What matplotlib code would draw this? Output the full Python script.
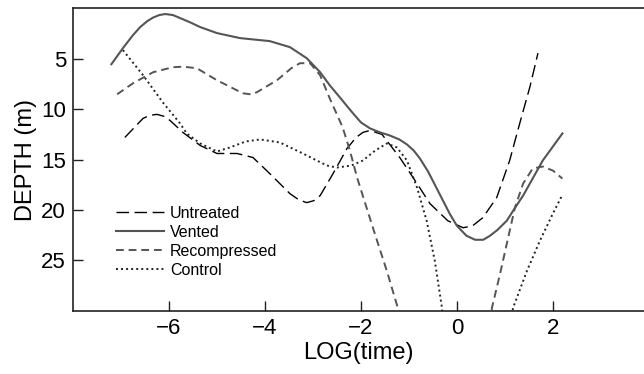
import numpy as np
import matplotlib
matplotlib.use("Agg")
import matplotlib.pyplot as plt

plt.rcParams['font.family'] = ['Liberation Sans', 'DejaVu Sans']

# depth curves (LOG(time), depth in m)
vented_x = [-7.2, -6.96, -6.75, -6.6, -6.45, -6.33, -6.2, -6.08, -5.92, -5.77, -5.55, -5.35,
            -5.0, -4.52, -3.9, -3.48, -3.13, -2.85, -2.65, -2.44, -2.2, -2.0, -1.81, -1.6,
            -1.4, -1.2, -1.04, -0.9, -0.77, -0.6, -0.45, -0.3, -0.15, 0.0, 0.2, 0.38, 0.55,
            0.69, 0.85, 1.04, 1.2, 1.38, 1.79, 2.2]
vented_y = [5.5, 3.9, 2.6, 1.8, 1.2, 0.85, 0.6, 0.5, 0.6, 0.9, 1.35, 1.8,
            2.4, 2.9, 3.2, 3.8, 4.9, 6.3, 7.6, 8.8, 10.2, 11.3, 11.9, 12.3,
            12.6, 13.0, 13.5, 14.1, 14.9, 16.2, 17.6, 19.0, 20.4, 21.6, 22.6, 23.0, 23.0,
            22.6, 22.0, 21.1, 19.9, 18.6, 15.1, 12.4]

untreated_x = [-6.92, -6.54, -6.4, -6.25, -6.1, -5.98, -5.71, -5.35, -5.0, -4.58, -4.25, -3.9,
               -3.48, -3.3, -3.13, -2.98, -2.85, -2.58, -2.29, -2.1, -1.96, -1.81, -1.56, -1.19,
               -0.83, -0.56, -0.19, 0.13, 0.33, 0.54, 0.83, 1.1, 1.31, 1.52, 1.69]
untreated_y = [12.8, 10.9, 10.6, 10.5, 10.7, 11.1, 12.3, 13.6, 14.4, 14.4, 14.8, 16.4,
               18.4, 19.0, 19.3, 19.1, 18.6, 16.4, 13.9, 12.8, 12.3, 12.1, 12.5, 14.8,
               17.4, 19.4, 21.1, 21.8, 21.6, 20.8, 18.8, 15.1, 11.4, 7.8, 4.4]

# these two leave the plot at the bottom and come back, nan splits the pieces
recomp_x = [-7.08, -6.75, -6.33, -5.92, -5.7, -5.42, -5.0, -4.46, -4.3, -4.17, -3.75, -3.45,
            -3.27, -3.06, -2.85, -2.65, -2.38, -2.23, -2.08, -1.75, -1.46, -1.23, -1.05, np.nan,
            0.68, 0.73, 0.9, 1.04, 1.21, 1.38, 1.58, 1.79, 2.0, 2.2]
recomp_y = [8.5, 7.4, 6.3, 5.8, 5.75, 5.9, 7.1, 8.4, 8.5, 8.3, 7.1, 5.9,
            5.4, 5.4, 6.6, 8.9, 11.8, 14.1, 16.8, 21.8, 26.1, 29.8, 32.7, np.nan,
            32.5, 29.8, 26.4, 23.4, 19.8, 17.4, 15.9, 15.7, 16.1, 16.9]

control_x = [-6.96, -6.54, -6.13, -5.77, -5.63, -5.35, -5.0, -4.73, -4.4, -4.1, -3.69, -3.21,
             -2.71, -2.5, -2.2, -1.96, -1.7, -1.46, -1.25, -1.04, -0.83, -0.63, -0.46, -0.31,
             -0.27, np.nan, 1.08, 1.17, 1.46, 1.73, 2.0, 2.19]
control_y = [4.1, 6.6, 9.3, 11.4, 12.4, 13.4, 14.2, 13.8, 13.2, 13.0, 13.3, 14.4,
             15.6, 15.8, 15.6, 15.1, 14.1, 13.4, 13.8, 15.1, 17.8, 21.1, 25.1, 29.8,
             32.5, np.nan, 32.5, 29.8, 26.1, 23.1, 20.4, 18.6]

fig = plt.figure(figsize=(6.44, 3.74), dpi=100)
ax = fig.add_axes([0.1134, 0.1684, 0.8866, 0.8102])

ax.plot(untreated_x, untreated_y, color='black', lw=1.0, dashes=(9, 4), label='Untreated')
ax.plot(vented_x, vented_y, color='#555555', lw=1.5, label='Vented')
ax.plot(recomp_x, recomp_y, color='#555555', lw=1.4, dashes=(4, 2.5), label='Recompressed')
ax.plot(control_x, control_y, color='#222222', lw=1.4, dashes=(1, 1.6), label='Control')

ax.set_xlim(-8, 3.9)
ax.set_ylim(30.1, -0.1)
ax.set_xticks([-6, -4, -2, 0, 2])
ax.set_xticklabels(['\u22126', '\u22124', '\u22122', '0', '2'])
ax.set_yticks([5, 10, 15, 20, 25])

ax.spines['right'].set_visible(False)
for s in ['left', 'bottom', 'top']:
    ax.spines[s].set_linewidth(1.2)
    ax.spines[s].set_color('#222222')
ax.tick_params(direction='in', length=7, width=1.0, labelsize=16, pad=5, color='#222222')

ax.set_xlabel('LOG(time)', fontsize=17, labelpad=2)
ax.set_ylabel('DEPTH (m)', fontsize=17, labelpad=3)

ax.legend(loc='upper left', bbox_to_anchor=(0.055, 0.385), frameon=False, fontsize=11.5,
          handlelength=3.0, handletextpad=0.4, labelspacing=0.25, borderpad=0.2)

fig.savefig('out.png', dpi=100)
